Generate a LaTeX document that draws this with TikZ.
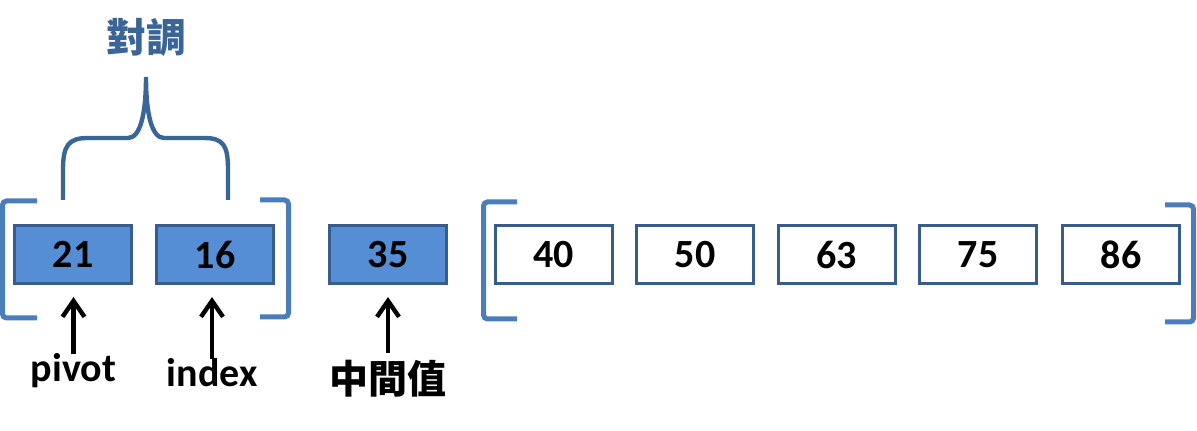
\documentclass[tikz,border=0pt]{standalone}
\usepackage{fontspec}
\setmainfont{Carlito}
\newfontfamily\cjk{Noto Sans CJK TC}
\usetikzlibrary{arrows.meta}
\definecolor{boxfill}{HTML}{558ED5}
\definecolor{boxline}{HTML}{385D8A}
\definecolor{brkline}{HTML}{4A7EBB}
\definecolor{swapblue}{HTML}{3A6598}

\begin{document}
\begin{tikzpicture}[x=0.5pt, y=-0.5pt,
    cell/.style={draw=boxline, line width=1.5pt, minimum width=58.5pt, minimum height=29pt,
      inner sep=0pt, font=\bfseries\fontsize{20}{24}\selectfont},
    hot/.style={cell, fill=boxfill},
    cold/.style={cell, fill=white},
    brk/.style={draw=brkline, line width=2.5pt, rounded corners=2pt},
    lbl/.style={inner sep=0pt, anchor=base, text height=13pt, font=\bfseries\fontsize{20}{24}\selectfont},
    up/.style={-{Straight Barb[length=8pt,width=11pt]}, line width=2.2pt, shorten <=1pt, shorten >=6pt}]
    \useasboundingbox (0,0) rectangle (1197,431);
    \node[hot] (b21) at (73,254.5) {21};
    \node[hot] (b16) at (215,254.5) {16};
    \node[hot] (b35) at (388,254.5) {35};
    \node[cold] (b40) at (553.5,254.5) {40};
    \node[cold] (b50) at (695,254.5) {50};
    \node[cold] (b63) at (836.5,254.5) {63};
    \node[cold] (b75) at (978,254.5) {75};
    \node[cold] (b86) at (1121,254.5) {86};
    \draw[brk] (37,201) -- (2.5,201) -- (2.5,318) -- (37,318);
    \draw[brk] (260,200) -- (288.5,200) -- (288.5,317) -- (260,317);
    \draw[brk] (517,202) -- (483.5,202) -- (483.5,319) -- (517,319);
    \draw[brk] (1165,205) -- (1193.5,205) -- (1193.5,322) -- (1165,322);
    \draw[swapblue, line width=2.2pt] (63,200) -- (63,170)
      .. controls (63,146) and (68,138) .. (88,138) -- (128,138)
      .. controls (140,138) and (146,115) .. (146,77)
      .. controls (146,115) and (152,138) .. (164,138) -- (204,138)
      .. controls (224,138) and (228,146) .. (228,170) -- (228,200);
    \node[text=swapblue, font=\cjk\bfseries\fontsize{20}{24}\selectfont] (swap) at (146,37) {對調};
    \node[lbl] (pivot) at (73.5,382) {pivot};
    \node[lbl] (index) at (212,387) {index};
    \node[lbl, text height=19.5pt, font=\cjk\bfseries\fontsize{19.5}{24}\selectfont] (mid) at (388,394) {中間值};
    \draw[up] (pivot.north) -- (pivot.north |- b21.south);
    \draw[up] (index.north) -- (index.north |- b16.south);
    \draw[up] (mid.north) -- (mid.north |- b35.south);
\end{tikzpicture}
\end{document}
